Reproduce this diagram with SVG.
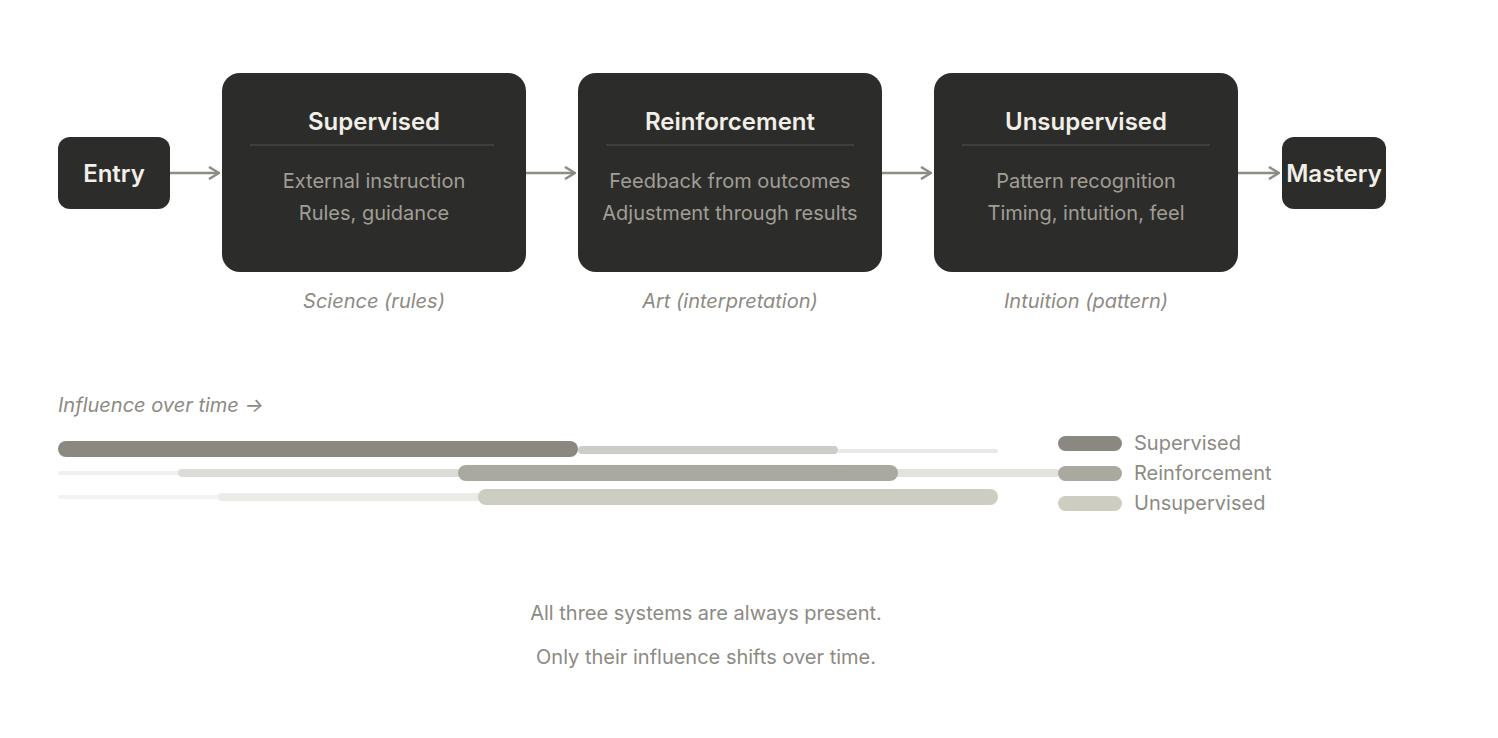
<svg xmlns="http://www.w3.org/2000/svg" width="1498" height="738" viewBox="0 0 1498 738">
<style>
text{font-family:Inter,"Noto Sans",sans-serif}
.box{fill:#2c2c2a}
.t{fill:#f2efe8;font-size:24px;font-weight:600;text-anchor:middle}
.b{fill:#a19e96;font-size:20px;text-anchor:middle}
.c{fill:#8d8a83;font-size:20px;font-style:italic;text-anchor:middle}
.div{stroke:#46453f;stroke-width:1.5}
.con{stroke:#8d8b84;stroke-width:2.5;fill:none}
.lg{fill:#8d8a83;font-size:20px}
.foot{fill:#8d8a83;font-size:20px;text-anchor:middle}
</style>
<defs><marker id="ah" markerWidth="12" markerHeight="14" refX="11" refY="7" orient="auto" markerUnits="userSpaceOnUse"><path d="M1 1L11 7L1 13" fill="none" stroke="#8d8b84" stroke-width="2.5"/></marker></defs>
<rect width="1498" height="738" fill="#fff"/>
<g id="entry"><rect class="box" x="58" y="137" width="112" height="72" rx="12"/><text class="t" x="114" y="182">Entry</text></g>
<g id="supervised"><rect class="box" x="222" y="73" width="304" height="199" rx="18"/><text class="t" x="374" y="130">Supervised</text><line class="div" x1="250" y1="145" x2="494" y2="145"/><text class="b" x="374" y="188">External instruction</text><text class="b" x="374" y="220">Rules, guidance</text><text class="c" x="374" y="308">Science (rules)</text></g>
<g id="reinforcement"><rect class="box" x="578" y="73" width="304" height="199" rx="18"/><text class="t" x="730" y="130">Reinforcement</text><line class="div" x1="606" y1="145" x2="854" y2="145"/><text class="b" x="730" y="188">Feedback from outcomes</text><text class="b" x="730" y="220">Adjustment through results</text><text class="c" x="730" y="308">Art (interpretation)</text></g>
<g id="unsupervised"><rect class="box" x="934" y="73" width="304" height="199" rx="18"/><text class="t" x="1086" y="130">Unsupervised</text><line class="div" x1="962" y1="145" x2="1210" y2="145"/><text class="b" x="1086" y="188">Pattern recognition</text><text class="b" x="1086" y="220">Timing, intuition, feel</text><text class="c" x="1086" y="308">Intuition (pattern)</text></g>
<g id="mastery"><rect class="box" x="1282" y="137" width="104" height="72" rx="12"/><text class="t" x="1334" y="182">Mastery</text></g>
<g id="connectors">
<line class="con" x1="170" y1="173" x2="219" y2="173" marker-end="url(#ah)"/>
<line class="con" x1="526" y1="173" x2="575" y2="173" marker-end="url(#ah)"/>
<line class="con" x1="882" y1="173" x2="931" y2="173" marker-end="url(#ah)"/>
<line class="con" x1="1238" y1="173" x2="1279" y2="173" marker-end="url(#ah)"/>
</g>
<g id="influence">
<text x="58" y="412" fill="#8d8a83" font-size="20" font-style="italic">Influence over time →</text>
<rect x="838" y="449" width="160" height="4" rx="2" fill="#e8e8e6"/>
<rect x="578" y="446" width="260" height="8" rx="4" fill="#cdcdc8"/>
<rect x="58" y="441" width="520" height="16" rx="8" fill="#8a8880"/>
<rect x="58" y="471" width="124" height="4" rx="2" fill="#f0f0ee"/>
<rect x="178" y="469" width="284" height="8" rx="4" fill="#dcdcd8"/>
<rect x="894" y="469" width="166" height="8" rx="4" fill="#e2e2de"/>
<rect x="458" y="465" width="440" height="16" rx="8" fill="#a9a9a0"/>
<rect x="58" y="495" width="164" height="4" rx="2" fill="#f2f2f0"/>
<rect x="218" y="493" width="264" height="8" rx="4" fill="#ebebe7"/>
<rect x="478" y="489" width="520" height="16" rx="8" fill="#cdcdc2"/>
<rect x="1058" y="436" width="64" height="15" rx="7.5" fill="#8a8880"/><text class="lg" x="1134" y="450">Supervised</text>
<rect x="1058" y="466" width="64" height="15" rx="7.5" fill="#a9a9a0"/><text class="lg" x="1134" y="480">Reinforcement</text>
<rect x="1058" y="496" width="64" height="15" rx="7.5" fill="#cdcdc2"/><text class="lg" x="1134" y="510">Unsupervised</text>
</g>
<text class="foot" x="706" y="620">All three systems are always present.</text>
<text class="foot" x="706" y="664">Only their influence shifts over time.</text>
</svg>
